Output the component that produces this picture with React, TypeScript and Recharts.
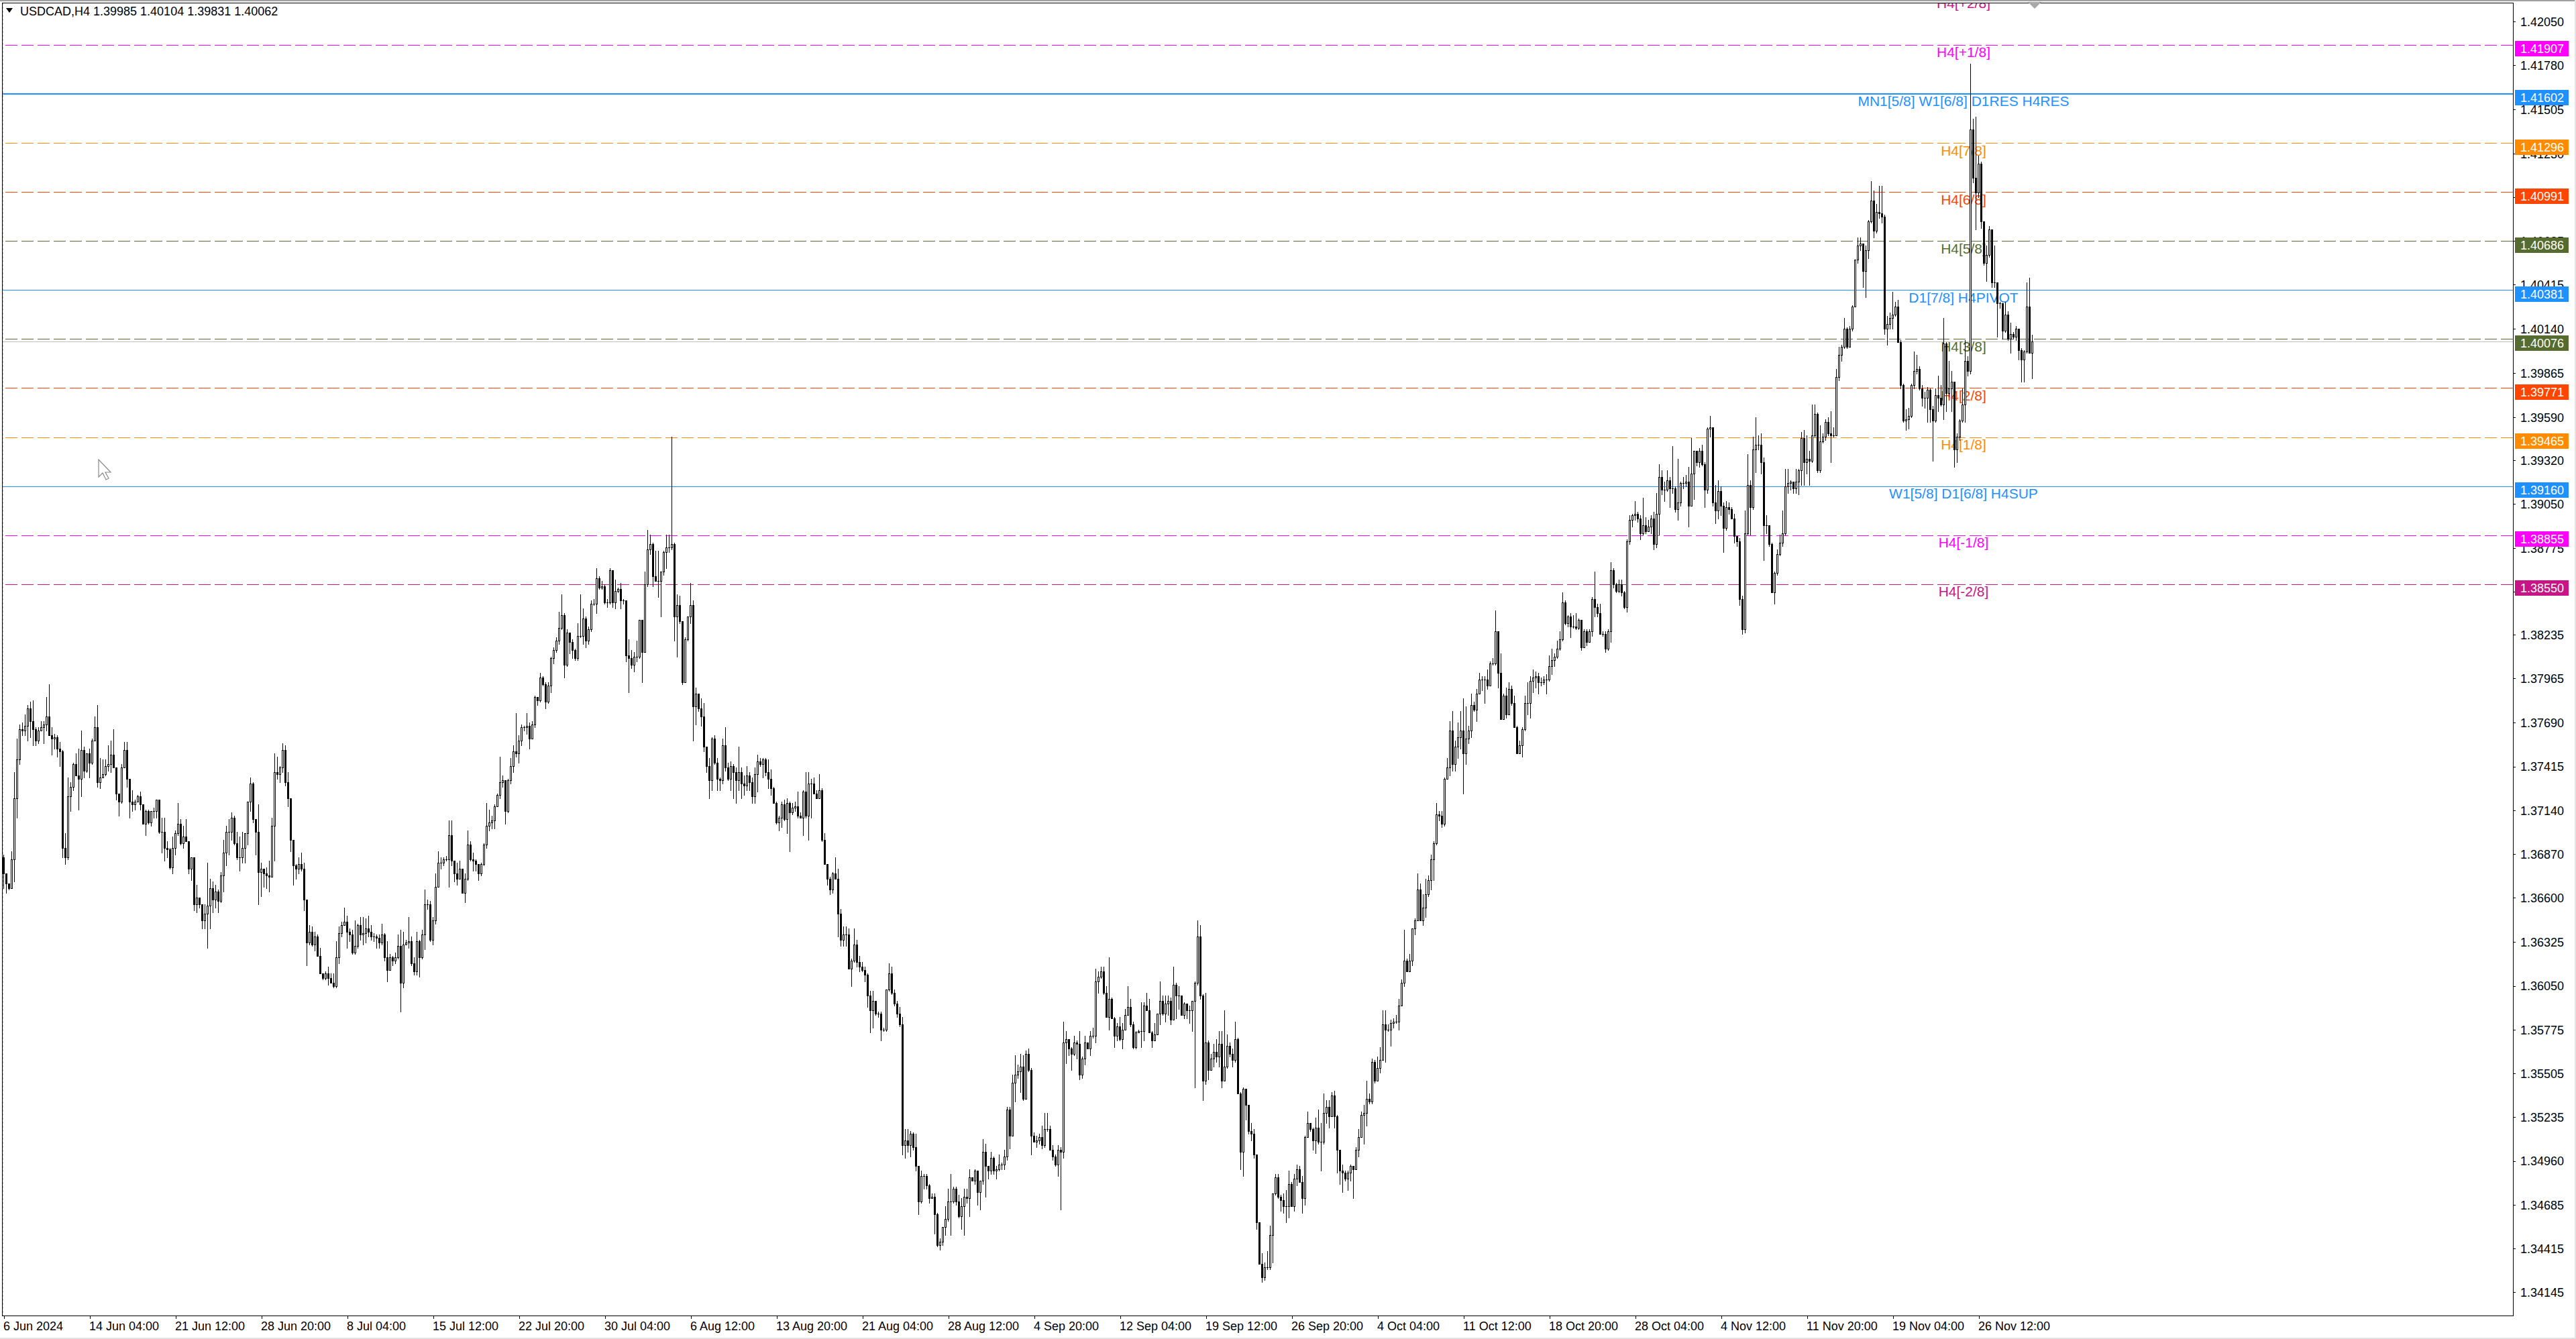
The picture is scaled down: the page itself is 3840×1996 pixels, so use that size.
import React from 'react';
import { ComposedChart, Bar, XAxis, YAxis, CartesianGrid, ReferenceLine } from 'recharts';

// USDCAD H4, 6 Jun 2024 20:00 .. 29 Nov 2024 20:00 (one value per bar)
const firstOpen = 1.3685;

const closes = [
  1.3675, 1.3669, 1.3666, 1.3684, 1.3722, 1.3746, 1.3765, 1.3764, 1.3767, 1.3778,
  1.3770, 1.3765, 1.3758, 1.3764, 1.3766, 1.3768, 1.3773, 1.3761, 1.3759, 1.3760,
  1.3753, 1.3751, 1.3691, 1.3685, 1.3723, 1.3729, 1.3743, 1.3736, 1.3734, 1.3752,
  1.3739, 1.3750, 1.3744, 1.3758, 1.3766, 1.3732, 1.3735, 1.3737, 1.3742, 1.3743,
  1.3749, 1.3741, 1.3725, 1.3720, 1.3741, 1.3752, 1.3734, 1.3720, 1.3718, 1.3720,
  1.3723, 1.3718, 1.3706, 1.3714, 1.3707, 1.3714, 1.3714, 1.3721, 1.3701, 1.3701,
  1.3691, 1.3690, 1.3679, 1.3691, 1.3700, 1.3706, 1.3694, 1.3698, 1.3695, 1.3678,
  1.3685, 1.3656, 1.3660, 1.3656, 1.3646, 1.3650, 1.3655, 1.3666, 1.3659, 1.3664,
  1.3658, 1.3674, 1.3688, 1.3701, 1.3701, 1.3710, 1.3694, 1.3685, 1.3685, 1.3691,
  1.3700, 1.3720, 1.3731, 1.3709, 1.3701, 1.3676, 1.3678, 1.3675, 1.3674, 1.3673,
  1.3705, 1.3738, 1.3737, 1.3741, 1.3752, 1.3732, 1.3722, 1.3696, 1.3680, 1.3678,
  1.3681, 1.3678, 1.3659, 1.3632, 1.3639, 1.3631, 1.3636, 1.3624, 1.3613, 1.3610,
  1.3613, 1.3610, 1.3607, 1.3605, 1.3623, 1.3638, 1.3643, 1.3645, 1.3639, 1.3637,
  1.3626, 1.3630, 1.3643, 1.3637, 1.3638, 1.3641, 1.3639, 1.3636, 1.3636, 1.3635,
  1.3632, 1.3637, 1.3623, 1.3615, 1.3623, 1.3621, 1.3623, 1.3630, 1.3607, 1.3631,
  1.3632, 1.3633, 1.3619, 1.3614, 1.3633, 1.3623, 1.3637, 1.3656, 1.3656, 1.3634,
  1.3646, 1.3667, 1.3682, 1.3682, 1.3684, 1.3684, 1.3699, 1.3683, 1.3675, 1.3672,
  1.3678, 1.3663, 1.3672, 1.3693, 1.3684, 1.3683, 1.3681, 1.3675, 1.3681, 1.3693,
  1.3705, 1.3707, 1.3708, 1.3717, 1.3724, 1.3732, 1.3733, 1.3714, 1.3733, 1.3742,
  1.3751, 1.3750, 1.3758, 1.3766, 1.3766, 1.3767, 1.3759, 1.3768, 1.3785, 1.3783,
  1.3797, 1.3793, 1.3782, 1.3792, 1.3809, 1.3814, 1.3820, 1.3828, 1.3836, 1.3805,
  1.3825, 1.3819, 1.3814, 1.3809, 1.3823, 1.3823, 1.3834, 1.3820, 1.3827, 1.3843,
  1.3843, 1.3859, 1.3853, 1.3854, 1.3844, 1.3844, 1.3864, 1.3844, 1.3851, 1.3852,
  1.3845, 1.3845, 1.3811, 1.3809, 1.3805, 1.3810, 1.3810, 1.3833, 1.3813, 1.3855,
  1.3877, 1.3880, 1.3860, 1.3857, 1.3857, 1.3863, 1.3875, 1.3878, 1.3878, 1.3880,
  1.3835, 1.3842, 1.3832, 1.3794, 1.3821, 1.3835, 1.3842, 1.3779, 1.3787, 1.3778,
  1.3773, 1.3754, 1.3742, 1.3733, 1.3759, 1.3744, 1.3734, 1.3733, 1.3755, 1.3741,
  1.3734, 1.3742, 1.3738, 1.3733, 1.3738, 1.3731, 1.3730, 1.3736, 1.3732, 1.3723,
  1.3737, 1.3745, 1.3743, 1.3746, 1.3738, 1.3734, 1.3728, 1.3719, 1.3707, 1.3710,
  1.3718, 1.3709, 1.3719, 1.3713, 1.3716, 1.3717, 1.3711, 1.3710, 1.3726, 1.3711,
  1.3731, 1.3731, 1.3725, 1.3722, 1.3727, 1.3696, 1.3681, 1.3672, 1.3665, 1.3675,
  1.3672, 1.3650, 1.3634, 1.3637, 1.3637, 1.3616, 1.3621, 1.3631, 1.3620, 1.3617,
  1.3615, 1.3612, 1.3599, 1.3590, 1.3596, 1.3588, 1.3588, 1.3578, 1.3578, 1.3603,
  1.3613, 1.3601, 1.3594, 1.3588, 1.3581, 1.3506, 1.3509, 1.3506, 1.3513, 1.3505,
  1.3493, 1.3471, 1.3487, 1.3487, 1.3481, 1.3473, 1.3474, 1.3463, 1.3444, 1.3446,
  1.3455, 1.3460, 1.3471, 1.3471, 1.3479, 1.3471, 1.3462, 1.3468, 1.3474, 1.3473,
  1.3486, 1.3484, 1.3490, 1.3477, 1.3484, 1.3502, 1.3493, 1.3490, 1.3498, 1.3490,
  1.3491, 1.3494, 1.3494, 1.3499, 1.3528, 1.3512, 1.3545, 1.3550, 1.3552, 1.3555,
  1.3535, 1.3563, 1.3553, 1.3512, 1.3508, 1.3509, 1.3511, 1.3506, 1.3516, 1.3516,
  1.3503, 1.3499, 1.3494, 1.3503, 1.3502, 1.3570, 1.3572, 1.3566, 1.3563, 1.3570,
  1.3569, 1.3550, 1.3560, 1.3570, 1.3566, 1.3574, 1.3574, 1.3608, 1.3611, 1.3614,
  1.3601, 1.3586, 1.3597, 1.3585, 1.3574, 1.3580, 1.3572, 1.3578, 1.3587, 1.3592,
  1.3581, 1.3567, 1.3576, 1.3577, 1.3577, 1.3593, 1.3590, 1.3576, 1.3571, 1.3575,
  1.3588, 1.3596, 1.3588, 1.3594, 1.3596, 1.3584, 1.3606, 1.3599, 1.3599, 1.3587,
  1.3594, 1.3590, 1.3590, 1.3596, 1.3607, 1.3636, 1.3599, 1.3546, 1.3570, 1.3553,
  1.3560, 1.3564, 1.3561, 1.3569, 1.3546, 1.3555, 1.3568, 1.3563, 1.3559, 1.3572,
  1.3538, 1.3502, 1.3541, 1.3531, 1.3515, 1.3513, 1.3500, 1.3458, 1.3432, 1.3424,
  1.3430, 1.3430, 1.3450, 1.3476, 1.3486, 1.3474, 1.3472, 1.3468, 1.3468, 1.3482,
  1.3468, 1.3485, 1.3491, 1.3483, 1.3473, 1.3511, 1.3520, 1.3516, 1.3509, 1.3517,
  1.3508, 1.3508, 1.3526, 1.3530, 1.3524, 1.3537, 1.3524, 1.3503, 1.3490, 1.3489,
  1.3485, 1.3489, 1.3493, 1.3491, 1.3503, 1.3511, 1.3525, 1.3526, 1.3535, 1.3533,
  1.3558, 1.3546, 1.3554, 1.3559, 1.3581, 1.3578, 1.3578, 1.3582, 1.3583, 1.3583,
  1.3593, 1.3607, 1.3621, 1.3614, 1.3621, 1.3641, 1.3646, 1.3665, 1.3646, 1.3654,
  1.3662, 1.3671, 1.3684, 1.3694, 1.3712, 1.3711, 1.3706, 1.3734, 1.3741, 1.3764,
  1.3743, 1.3754, 1.3760, 1.3764, 1.3750, 1.3759, 1.3764, 1.3780, 1.3777, 1.3787,
  1.3796, 1.3796, 1.3796, 1.3792, 1.3806, 1.3806, 1.3826, 1.3800, 1.3771, 1.3786,
  1.3774, 1.3790, 1.3781, 1.3766, 1.3750, 1.3755, 1.3765, 1.3781, 1.3781, 1.3795,
  1.3797, 1.3798, 1.3794, 1.3794, 1.3796, 1.3796, 1.3804, 1.3808, 1.3810, 1.3815,
  1.3821, 1.3844, 1.3831, 1.3835, 1.3829, 1.3829, 1.3828, 1.3833, 1.3816, 1.3826,
  1.3819, 1.3826, 1.3846, 1.3841, 1.3837, 1.3824, 1.3824, 1.3815, 1.3826, 1.3864,
  1.3855, 1.3851, 1.3855, 1.3850, 1.3841, 1.3882, 1.3895, 1.3898, 1.3899, 1.3896,
  1.3887, 1.3892, 1.3888, 1.3891, 1.3896, 1.3880, 1.3899, 1.3922, 1.3914, 1.3914,
  1.3920, 1.3915, 1.3915, 1.3902, 1.3906, 1.3918, 1.3918, 1.3919, 1.3904, 1.3924,
  1.3938, 1.3931, 1.3938, 1.3930, 1.3914, 1.3952, 1.3953, 1.3906, 1.3901, 1.3913,
  1.3904, 1.3890, 1.3903, 1.3902, 1.3896, 1.3885, 1.3882, 1.3846, 1.3827, 1.3887,
  1.3917, 1.3903, 1.3939, 1.3942, 1.3942, 1.3931, 1.3892, 1.3892, 1.3880, 1.3850,
  1.3862, 1.3874, 1.3881, 1.3887, 1.3916, 1.3918, 1.3919, 1.3915, 1.3919, 1.3926,
  1.3946, 1.3931, 1.3933, 1.3932, 1.3948, 1.3961, 1.3926, 1.3944, 1.3947, 1.3956,
  1.3949, 1.3948, 1.3948, 1.3984, 1.3998, 1.4003, 1.4014, 1.4003, 1.4014, 1.4028,
  1.4057, 1.4066, 1.4067, 1.4050, 1.4063, 1.4081, 1.4094, 1.4075, 1.4087, 1.4086,
  1.4084, 1.4014, 1.4017, 1.4021, 1.4023, 1.4028, 1.4006, 1.3979, 1.3957, 1.3958,
  1.3960, 1.3979, 1.3988, 1.3989, 1.3977, 1.3971, 1.3971, 1.3976, 1.3964, 1.3957,
  1.3973, 1.3971, 1.3967, 1.4005, 1.3974, 1.3977, 1.3981, 1.3939, 1.3947, 1.3957,
  1.3967, 1.3994, 1.3988, 1.4138, 1.4108, 1.4099, 1.4117, 1.4081, 1.4055, 1.4060,
  1.4076, 1.4043, 1.4043, 1.4030, 1.4030, 1.4013, 1.4023, 1.4008, 1.4011, 1.4009,
  1.4014, 1.4001, 1.3995, 1.4000, 1.4028, 1.3999, 1.40062,
];

const highs = [
  1.3687, 1.3671, 1.3668, 1.3689, 1.3738, 1.3759, 1.3768, 1.3769, 1.3774, 1.3780,
  1.3782, 1.3783, 1.3766, 1.3766, 1.3770, 1.3770, 1.3785, 1.3793, 1.3766, 1.3762,
  1.3761, 1.3757, 1.3752, 1.3700, 1.3735, 1.3732, 1.3744, 1.3750, 1.3753, 1.3764,
  1.3754, 1.3750, 1.3753, 1.3759, 1.3773, 1.3780, 1.3747, 1.3746, 1.3746, 1.3755,
  1.3758, 1.3765, 1.3741, 1.3723, 1.3743, 1.3757, 1.3757, 1.3734, 1.3727, 1.3721,
  1.3724, 1.3726, 1.3718, 1.3715, 1.3715, 1.3714, 1.3716, 1.3721, 1.3721, 1.3710,
  1.3710, 1.3695, 1.3691, 1.3698, 1.3702, 1.3719, 1.3709, 1.3705, 1.3709, 1.3695,
  1.3685, 1.3685, 1.3668, 1.3658, 1.3656, 1.3656, 1.3682, 1.3672, 1.3670, 1.3668,
  1.3665, 1.3676, 1.3696, 1.3705, 1.3709, 1.3713, 1.3711, 1.3701, 1.3698, 1.3701,
  1.3700, 1.3720, 1.3735, 1.3732, 1.3709, 1.3718, 1.3682, 1.3678, 1.3679, 1.3683,
  1.3710, 1.3750, 1.3748, 1.3742, 1.3756, 1.3755, 1.3738, 1.3722, 1.3696, 1.3681,
  1.3685, 1.3688, 1.3682, 1.3658, 1.3643, 1.3642, 1.3639, 1.3637, 1.3629, 1.3613,
  1.3614, 1.3617, 1.3613, 1.3613, 1.3633, 1.3642, 1.3645, 1.3654, 1.3649, 1.3641,
  1.3640, 1.3646, 1.3644, 1.3648, 1.3648, 1.3647, 1.3649, 1.3643, 1.3638, 1.3637,
  1.3637, 1.3644, 1.3638, 1.3633, 1.3625, 1.3624, 1.3626, 1.3637, 1.3640, 1.3639,
  1.3634, 1.3648, 1.3636, 1.3623, 1.3639, 1.3634, 1.3640, 1.3665, 1.3659, 1.3658,
  1.3648, 1.3675, 1.3689, 1.3685, 1.3685, 1.3686, 1.3708, 1.3708, 1.3683, 1.3682,
  1.3683, 1.3676, 1.3675, 1.3702, 1.3695, 1.3688, 1.3684, 1.3681, 1.3682, 1.3694,
  1.3719, 1.3715, 1.3711, 1.3718, 1.3725, 1.3748, 1.3736, 1.3724, 1.3734, 1.3747,
  1.3755, 1.3775, 1.3761, 1.3768, 1.3767, 1.3775, 1.3769, 1.3770, 1.3786, 1.3784,
  1.3800, 1.3798, 1.3794, 1.3794, 1.3810, 1.3816, 1.3822, 1.3838, 1.3849, 1.3837,
  1.3827, 1.3825, 1.3821, 1.3815, 1.3831, 1.3849, 1.3840, 1.3835, 1.3829, 1.3845,
  1.3846, 1.3865, 1.3860, 1.3857, 1.3855, 1.3846, 1.3865, 1.3864, 1.3858, 1.3853,
  1.3856, 1.3846, 1.3845, 1.3821, 1.3814, 1.3813, 1.3820, 1.3833, 1.3833, 1.3863,
  1.3889, 1.3886, 1.3881, 1.3876, 1.3876, 1.3863, 1.3876, 1.3886, 1.3886, 1.3947,
  1.3881, 1.3849, 1.3848, 1.3825, 1.3822, 1.3835, 1.3856, 1.3845, 1.3791, 1.3784,
  1.3784, 1.3781, 1.3754, 1.3747, 1.3760, 1.3761, 1.3747, 1.3735, 1.3759, 1.3766,
  1.3744, 1.3745, 1.3743, 1.3741, 1.3754, 1.3741, 1.3736, 1.3742, 1.3738, 1.3735,
  1.3741, 1.3749, 1.3747, 1.3747, 1.3747, 1.3746, 1.3740, 1.3729, 1.3720, 1.3711,
  1.3720, 1.3721, 1.3722, 1.3720, 1.3719, 1.3720, 1.3726, 1.3713, 1.3727, 1.3738,
  1.3738, 1.3734, 1.3735, 1.3727, 1.3737, 1.3728, 1.3700, 1.3681, 1.3673, 1.3676,
  1.3685, 1.3678, 1.3653, 1.3642, 1.3642, 1.3641, 1.3622, 1.3641, 1.3634, 1.3624,
  1.3620, 1.3617, 1.3613, 1.3602, 1.3602, 1.3594, 1.3589, 1.3589, 1.3579, 1.3603,
  1.3619, 1.3617, 1.3603, 1.3596, 1.3592, 1.3586, 1.3516, 1.3516, 1.3515, 1.3514,
  1.3513, 1.3493, 1.3490, 1.3488, 1.3488, 1.3482, 1.3476, 1.3476, 1.3464, 1.3448,
  1.3455, 1.3468, 1.3479, 1.3488, 1.3480, 1.3480, 1.3475, 1.3473, 1.3479, 1.3479,
  1.3491, 1.3486, 1.3491, 1.3490, 1.3484, 1.3510, 1.3507, 1.3491, 1.3502, 1.3499,
  1.3493, 1.3500, 1.3495, 1.3503, 1.3530, 1.3530, 1.3550, 1.3562, 1.3556, 1.3563,
  1.3562, 1.3565, 1.3566, 1.3554, 1.3514, 1.3512, 1.3513, 1.3518, 1.3526, 1.3526,
  1.3518, 1.3506, 1.3500, 1.3506, 1.3505, 1.3583, 1.3577, 1.3571, 1.3567, 1.3574,
  1.3571, 1.3577, 1.3561, 1.3574, 1.3570, 1.3577, 1.3579, 1.3616, 1.3614, 1.3617,
  1.3617, 1.3605, 1.3623, 1.3598, 1.3586, 1.3582, 1.3586, 1.3582, 1.3591, 1.3605,
  1.3597, 1.3583, 1.3577, 1.3578, 1.3595, 1.3595, 1.3601, 1.3597, 1.3577, 1.3582,
  1.3588, 1.3608, 1.3599, 1.3599, 1.3599, 1.3598, 1.3617, 1.3607, 1.3605, 1.3597,
  1.3595, 1.3594, 1.3593, 1.3596, 1.3608, 1.3646, 1.3643, 1.3600, 1.3601, 1.3571,
  1.3563, 1.3569, 1.3572, 1.3577, 1.3577, 1.3590, 1.3575, 1.3570, 1.3566, 1.3583,
  1.3573, 1.3539, 1.3542, 1.3539, 1.3530, 1.3520, 1.3516, 1.3500, 1.3458, 1.3439,
  1.3433, 1.3440, 1.3456, 1.3476, 1.3488, 1.3488, 1.3475, 1.3476, 1.3478, 1.3490,
  1.3483, 1.3488, 1.3494, 1.3493, 1.3487, 1.3512, 1.3527, 1.3517, 1.3517, 1.3523,
  1.3528, 1.3520, 1.3538, 1.3534, 1.3534, 1.3539, 1.3540, 1.3525, 1.3503, 1.3494,
  1.3490, 1.3490, 1.3494, 1.3493, 1.3505, 1.3516, 1.3527, 1.3531, 1.3546, 1.3538,
  1.3560, 1.3559, 1.3561, 1.3567, 1.3590, 1.3590, 1.3581, 1.3584, 1.3585, 1.3587,
  1.3597, 1.3609, 1.3640, 1.3622, 1.3625, 1.3641, 1.3647, 1.3675, 1.3669, 1.3662,
  1.3672, 1.3674, 1.3687, 1.3695, 1.3719, 1.3714, 1.3714, 1.3735, 1.3747, 1.3770,
  1.3776, 1.3758, 1.3769, 1.3776, 1.3784, 1.3779, 1.3767, 1.3787, 1.3782, 1.3790,
  1.3800, 1.3798, 1.3798, 1.3802, 1.3807, 1.3809, 1.3839, 1.3826, 1.3812, 1.3787,
  1.3791, 1.3794, 1.3792, 1.3786, 1.3767, 1.3758, 1.3766, 1.3786, 1.3794, 1.3798,
  1.3802, 1.3801, 1.3800, 1.3797, 1.3798, 1.3799, 1.3811, 1.3815, 1.3812, 1.3820,
  1.3826, 1.3850, 1.3845, 1.3836, 1.3837, 1.3836, 1.3837, 1.3834, 1.3831, 1.3827,
  1.3827, 1.3827, 1.3847, 1.3863, 1.3843, 1.3843, 1.3826, 1.3826, 1.3827, 1.3869,
  1.3865, 1.3856, 1.3858, 1.3858, 1.3851, 1.3883, 1.3898, 1.3899, 1.3907, 1.3900,
  1.3898, 1.3909, 1.3897, 1.3895, 1.3898, 1.3900, 1.3912, 1.3930, 1.3926, 1.3919,
  1.3926, 1.3922, 1.3941, 1.3916, 1.3933, 1.3919, 1.3922, 1.3923, 1.3928, 1.3946,
  1.3938, 1.3935, 1.3940, 1.3942, 1.3931, 1.3953, 1.3960, 1.3930, 1.3917, 1.3920,
  1.3916, 1.3906, 1.3907, 1.3906, 1.3903, 1.3899, 1.3885, 1.3884, 1.3848, 1.3901,
  1.3936, 1.3920, 1.3947, 1.3959, 1.3948, 1.3949, 1.3934, 1.3898, 1.3892, 1.3881,
  1.3863, 1.3877, 1.3886, 1.3901, 1.3927, 1.3927, 1.3920, 1.3919, 1.3927, 1.3927,
  1.3950, 1.3951, 1.3948, 1.3938, 1.3967, 1.3967, 1.3962, 1.3954, 1.3949, 1.3958,
  1.3959, 1.3963, 1.3953, 1.3989, 1.4003, 1.4004, 1.4021, 1.4015, 1.4016, 1.4029,
  1.4057, 1.4071, 1.4071, 1.4066, 1.4066, 1.4082, 1.4106, 1.4100, 1.4092, 1.4103,
  1.4103, 1.4085, 1.4022, 1.4024, 1.4037, 1.4031, 1.4032, 1.4007, 1.3980, 1.3964,
  1.3965, 1.3980, 1.4000, 1.3998, 1.3991, 1.3979, 1.3975, 1.3978, 1.3977, 1.3966,
  1.3977, 1.3985, 1.3979, 1.4021, 1.4006, 1.3994, 1.3988, 1.3981, 1.3949, 1.3958,
  1.3977, 1.4007, 1.3997, 1.4179, 1.4145, 1.4146, 1.4122, 1.4118, 1.4081, 1.4066,
  1.4078, 1.4076, 1.4066, 1.4043, 1.4031, 1.4028, 1.4031, 1.4025, 1.4018, 1.4012,
  1.4016, 1.4013, 1.4002, 1.4001, 1.4043, 1.4046, 1.40104,
];

const lows = [
  1.3666, 1.3663, 1.3665, 1.3666, 1.3670, 1.3710, 1.3743, 1.3761, 1.3761, 1.3758,
  1.3760, 1.3755, 1.3755, 1.3756, 1.3764, 1.3756, 1.3764, 1.3761, 1.3749, 1.3753,
  1.3748, 1.3742, 1.3685, 1.3681, 1.3684, 1.3714, 1.3727, 1.3736, 1.3715, 1.3723,
  1.3735, 1.3738, 1.3735, 1.3743, 1.3758, 1.3729, 1.3728, 1.3736, 1.3736, 1.3739,
  1.3738, 1.3741, 1.3721, 1.3711, 1.3719, 1.3741, 1.3729, 1.3710, 1.3714, 1.3715,
  1.3720, 1.3715, 1.3706, 1.3699, 1.3706, 1.3705, 1.3710, 1.3710, 1.3700, 1.3688,
  1.3683, 1.3685, 1.3678, 1.3675, 1.3687, 1.3699, 1.3693, 1.3691, 1.3695, 1.3675,
  1.3671, 1.3652, 1.3651, 1.3654, 1.3641, 1.3641, 1.3629, 1.3641, 1.3651, 1.3654,
  1.3651, 1.3657, 1.3664, 1.3680, 1.3687, 1.3696, 1.3693, 1.3684, 1.3677, 1.3682,
  1.3682, 1.3693, 1.3714, 1.3707, 1.3687, 1.3656, 1.3661, 1.3667, 1.3666, 1.3664,
  1.3673, 1.3683, 1.3734, 1.3732, 1.3738, 1.3730, 1.3717, 1.3689, 1.3668, 1.3672,
  1.3675, 1.3677, 1.3652, 1.3618, 1.3631, 1.3630, 1.3627, 1.3624, 1.3613, 1.3609,
  1.3609, 1.3606, 1.3607, 1.3604, 1.3604, 1.3619, 1.3636, 1.3644, 1.3629, 1.3633,
  1.3625, 1.3625, 1.3629, 1.3634, 1.3631, 1.3632, 1.3636, 1.3634, 1.3633, 1.3629,
  1.3629, 1.3631, 1.3621, 1.3608, 1.3615, 1.3618, 1.3619, 1.3622, 1.3589, 1.3604,
  1.3631, 1.3629, 1.3618, 1.3612, 1.3612, 1.3611, 1.3622, 1.3628, 1.3653, 1.3633,
  1.3631, 1.3644, 1.3667, 1.3678, 1.3680, 1.3683, 1.3667, 1.3680, 1.3670, 1.3668,
  1.3674, 1.3663, 1.3657, 1.3671, 1.3683, 1.3677, 1.3677, 1.3671, 1.3674, 1.3680,
  1.3691, 1.3702, 1.3703, 1.3703, 1.3717, 1.3722, 1.3729, 1.3706, 1.3713, 1.3731,
  1.3738, 1.3748, 1.3744, 1.3755, 1.3764, 1.3762, 1.3753, 1.3759, 1.3766, 1.3780,
  1.3782, 1.3792, 1.3778, 1.3781, 1.3788, 1.3806, 1.3813, 1.3818, 1.3827, 1.3797,
  1.3804, 1.3812, 1.3809, 1.3808, 1.3808, 1.3822, 1.3818, 1.3816, 1.3818, 1.3826,
  1.3842, 1.3837, 1.3852, 1.3852, 1.3843, 1.3841, 1.3843, 1.3841, 1.3840, 1.3850,
  1.3840, 1.3843, 1.3807, 1.3788, 1.3803, 1.3801, 1.3807, 1.3809, 1.3794, 1.3813,
  1.3854, 1.3874, 1.3854, 1.3857, 1.3847, 1.3835, 1.3861, 1.3865, 1.3875, 1.3877,
  1.3820, 1.3810, 1.3831, 1.3793, 1.3794, 1.3820, 1.3831, 1.3758, 1.3768, 1.3776,
  1.3767, 1.3751, 1.3738, 1.3722, 1.3727, 1.3743, 1.3727, 1.3727, 1.3731, 1.3739,
  1.3733, 1.3727, 1.3722, 1.3719, 1.3727, 1.3722, 1.3724, 1.3727, 1.3727, 1.3719,
  1.3719, 1.3726, 1.3742, 1.3735, 1.3736, 1.3728, 1.3724, 1.3719, 1.3706, 1.3702,
  1.3704, 1.3708, 1.3700, 1.3689, 1.3712, 1.3714, 1.3710, 1.3710, 1.3699, 1.3710,
  1.3696, 1.3710, 1.3725, 1.3722, 1.3722, 1.3695, 1.3681, 1.3668, 1.3662, 1.3663,
  1.3672, 1.3636, 1.3630, 1.3630, 1.3630, 1.3616, 1.3605, 1.3620, 1.3617, 1.3614,
  1.3614, 1.3608, 1.3592, 1.3576, 1.3579, 1.3587, 1.3586, 1.3571, 1.3577, 1.3577,
  1.3602, 1.3600, 1.3593, 1.3586, 1.3580, 1.3500, 1.3498, 1.3502, 1.3499, 1.3503,
  1.3490, 1.3463, 1.3470, 1.3479, 1.3479, 1.3470, 1.3473, 1.3451, 1.3443, 1.3441,
  1.3444, 1.3450, 1.3459, 1.3450, 1.3470, 1.3469, 1.3461, 1.3454, 1.3450, 1.3470,
  1.3462, 1.3484, 1.3482, 1.3469, 1.3466, 1.3482, 1.3474, 1.3485, 1.3488, 1.3488,
  1.3485, 1.3490, 1.3491, 1.3491, 1.3497, 1.3504, 1.3512, 1.3533, 1.3548, 1.3539,
  1.3534, 1.3535, 1.3552, 1.3500, 1.3508, 1.3505, 1.3507, 1.3504, 1.3505, 1.3515,
  1.3503, 1.3497, 1.3493, 1.3487, 1.3466, 1.3498, 1.3557, 1.3562, 1.3553, 1.3562,
  1.3560, 1.3547, 1.3548, 1.3556, 1.3566, 1.3562, 1.3573, 1.3570, 1.3601, 1.3610,
  1.3600, 1.3586, 1.3578, 1.3585, 1.3567, 1.3571, 1.3571, 1.3566, 1.3578, 1.3587,
  1.3580, 1.3566, 1.3566, 1.3576, 1.3567, 1.3571, 1.3590, 1.3576, 1.3567, 1.3571,
  1.3575, 1.3581, 1.3587, 1.3583, 1.3587, 1.3581, 1.3584, 1.3585, 1.3591, 1.3587,
  1.3585, 1.3585, 1.3582, 1.3577, 1.3542, 1.3606, 1.3597, 1.3534, 1.3544, 1.3547,
  1.3555, 1.3555, 1.3558, 1.3555, 1.3542, 1.3546, 1.3554, 1.3561, 1.3555, 1.3558,
  1.3538, 1.3491, 1.3487, 1.3522, 1.3513, 1.3509, 1.3498, 1.3454, 1.3432, 1.3421,
  1.3422, 1.3429, 1.3429, 1.3433, 1.3475, 1.3473, 1.3465, 1.3464, 1.3458, 1.3461,
  1.3468, 1.3465, 1.3481, 1.3483, 1.3464, 1.3469, 1.3511, 1.3515, 1.3503, 1.3501,
  1.3507, 1.3490, 1.3507, 1.3520, 1.3517, 1.3524, 1.3517, 1.3489, 1.3482, 1.3477,
  1.3484, 1.3478, 1.3484, 1.3473, 1.3491, 1.3499, 1.3511, 1.3507, 1.3518, 1.3532,
  1.3532, 1.3545, 1.3549, 1.3551, 1.3559, 1.3558, 1.3577, 1.3568, 1.3579, 1.3582,
  1.3578, 1.3593, 1.3605, 1.3614, 1.3614, 1.3618, 1.3637, 1.3646, 1.3646, 1.3643,
  1.3648, 1.3661, 1.3665, 1.3671, 1.3693, 1.3708, 1.3704, 1.3705, 1.3736, 1.3736,
  1.3739, 1.3739, 1.3747, 1.3753, 1.3725, 1.3743, 1.3756, 1.3760, 1.3776, 1.3770,
  1.3787, 1.3789, 1.3781, 1.3790, 1.3796, 1.3805, 1.3805, 1.3791, 1.3771, 1.3772,
  1.3772, 1.3774, 1.3780, 1.3766, 1.3750, 1.3750, 1.3748, 1.3764, 1.3774, 1.3772,
  1.3788, 1.3791, 1.3787, 1.3792, 1.3793, 1.3787, 1.3795, 1.3799, 1.3804, 1.3809,
  1.3814, 1.3820, 1.3830, 1.3829, 1.3822, 1.3828, 1.3827, 1.3827, 1.3814, 1.3816,
  1.3817, 1.3819, 1.3823, 1.3835, 1.3835, 1.3824, 1.3823, 1.3813, 1.3814, 1.3819,
  1.3853, 1.3850, 1.3850, 1.3848, 1.3840, 1.3838, 1.3880, 1.3891, 1.3895, 1.3894,
  1.3883, 1.3886, 1.3887, 1.3888, 1.3887, 1.3877, 1.3878, 1.3886, 1.3911, 1.3907,
  1.3913, 1.3903, 1.3912, 1.3900, 1.3895, 1.3904, 1.3915, 1.3916, 1.3891, 1.3904,
  1.3908, 1.3929, 1.3928, 1.3929, 1.3903, 1.3912, 1.3947, 1.3904, 1.3893, 1.3896,
  1.3898, 1.3875, 1.3889, 1.3899, 1.3896, 1.3881, 1.3879, 1.3842, 1.3824, 1.3825,
  1.3886, 1.3886, 1.3902, 1.3925, 1.3939, 1.3924, 1.3870, 1.3887, 1.3879, 1.3850,
  1.3843, 1.3861, 1.3873, 1.3879, 1.3886, 1.3912, 1.3914, 1.3912, 1.3912, 1.3911,
  1.3917, 1.3917, 1.3924, 1.3917, 1.3931, 1.3947, 1.3925, 1.3925, 1.3943, 1.3945,
  1.3948, 1.3931, 1.3947, 1.3948, 1.3982, 1.3994, 1.4002, 1.4002, 1.4003, 1.4013,
  1.4028, 1.4055, 1.4063, 1.4040, 1.4034, 1.4058, 1.4080, 1.4071, 1.4074, 1.4083,
  1.4080, 1.4011, 1.4004, 1.4014, 1.4014, 1.4022, 1.4006, 1.3977, 1.3956, 1.3951,
  1.3952, 1.3959, 1.3977, 1.3986, 1.3976, 1.3966, 1.3965, 1.3956, 1.3956, 1.3932,
  1.3956, 1.3963, 1.3966, 1.3958, 1.3963, 1.3972, 1.3963, 1.3928, 1.3931, 1.3945,
  1.3956, 1.3956, 1.3985, 1.3986, 1.4105, 1.4076, 1.4096, 1.4077, 1.4054, 1.4044,
  1.4059, 1.4040, 1.4040, 1.4009, 1.4027, 1.4008, 1.4012, 1.4007, 1.3999, 1.4008,
  1.4007, 1.3995, 1.3981, 1.3981, 1.3999, 1.3999, 1.39831,
];

// one label every 32 bars, starting at bar 0
const dateLabels = [
  '6 Jun 2024', '14 Jun 04:00', '21 Jun 12:00', '28 Jun 20:00', '8 Jul 04:00', '15 Jul 12:00',
  '22 Jul 20:00', '30 Jul 04:00', '6 Aug 12:00', '13 Aug 20:00', '21 Aug 04:00', '28 Aug 12:00',
  '4 Sep 20:00', '12 Sep 04:00', '19 Sep 12:00', '26 Sep 20:00', '4 Oct 04:00', '11 Oct 12:00',
  '18 Oct 20:00', '28 Oct 04:00', '4 Nov 12:00', '11 Nov 20:00', '19 Nov 04:00', '26 Nov 12:00',
];

const priceTicks = [
  1.4205, 1.4178, 1.41505, 1.4123, 1.4096, 1.40685, 1.40415, 1.4014, 1.39865, 1.3959,
  1.3932, 1.3905, 1.38775, 1.38505, 1.38235, 1.37965, 1.3769, 1.37415, 1.3714, 1.3687,
  1.366, 1.36325, 1.3605, 1.35775, 1.35505, 1.35235, 1.3496, 1.34685, 1.34415, 1.34145,
];

const levelValues = [1.41907, 1.41602, 1.41296, 1.40991, 1.40686, 1.40381, 1.40076, 1.39771, 1.39465, 1.3916, 1.38855, 1.3855];
const levelNames = [
  'H4[+1/8]', 'MN1[5/8] W1[6/8] D1RES H4RES', 'H4[7/8]', 'H4[6/8]', 'H4[5/8]', 'D1[7/8] H4PIVOT',
  'H4[3/8]', 'H4[2/8]', 'H4[1/8]', 'W1[5/8] D1[6/8] H4SUP', 'H4[-1/8]', 'H4[-2/8]',
];
const levelColors = ['#FF00FF', '#1E90FF', '#FF8C00', '#FF4500', '#556B2F', '#1E90FF', '#556B2F', '#FF4500', '#FF8C00', '#1E90FF', '#FF00FF', '#C71585'];
const topLevel = { value: 1.42212, name: 'H4[+2/8]', color: '#C71585' };
const bidPrice = 1.40062;
const header = 'USDCAD,H4  1.39985 1.40104 1.39831 1.40062';

const W = 3840;
const H = 1996;
const AXIS_W = 94;
const AXIS_H = 35;
const PLOT_BOTTOM = H - AXIS_H;
const LABEL_CX = 2927;
const FONT = '"Liberation Sans", Arial, sans-serif';

const candles = closes.map((close, i) => {
  const open = i === 0 ? firstOpen : closes[i - 1];
  const high = Math.max(highs[i], open, close);
  const low = Math.min(lows[i], open, close);
  return { i, open, close, high, low, range: [low, high] };
});

const xTicks: number[] = [];
for (let i = 0; i <= 928; i += 16) xTicks.push(i);

const levels = levelValues.map((value, k) => ({
  value,
  name: levelNames[k],
  color: levelColors[k],
  solid: levelColors[k] === '#1E90FF',
  width: k === 1 ? 2 : 1,
}));

function Candle(props: any) {
  const { x, y, width, height, payload } = props;
  if (x == null || y == null || !payload) return null;
  const { open, close, high, low } = payload;
  const top0 = Math.min(y, y + height);
  const h = Math.abs(height);
  const c = Math.floor(x + width / 2);
  const k = high > low ? h / (high - low) : 0;
  const yOf = (v: number) => top0 + (high - v) * k;
  const bTop = Math.round(yOf(Math.max(open, close)));
  const bBot = Math.round(yOf(Math.min(open, close)));
  const up = close >= open;
  return (
    <g shapeRendering="crispEdges">
      <line x1={c + 0.5} x2={c + 0.5} y1={Math.round(top0)} y2={Math.round(top0 + h) + 1} stroke="#000" strokeWidth={1} />
      {bBot - bTop < 1 ? (
        <line x1={c - 1} x2={c + 2} y1={bTop + 0.5} y2={bTop + 0.5} stroke="#000" strokeWidth={1} />
      ) : (
        <rect x={c - 0.5} y={bTop + 0.5} width={2} height={bBot - bTop} fill={up ? '#fff' : '#000'} stroke="#000" strokeWidth={1} />
      )}
    </g>
  );
}

function DateTick(props: any) {
  const { x, payload } = props;
  const v = payload?.value;
  if (v == null || v % 32 !== 0) return null;
  const label = dateLabels[v / 32];
  if (!label) return null;
  const px = Math.round(x);
  return (
    <g>
      <line x1={px + 0.5} x2={px + 0.5} y1={PLOT_BOTTOM} y2={PLOT_BOTTOM + 5} stroke="#000" shapeRendering="crispEdges" />
      <text x={px - 1} y={PLOT_BOTTOM + 22} fill="#000" fontSize={18} fontFamily={FONT} textAnchor="start">
        {label}
      </text>
    </g>
  );
}

const lineY = (props: any) => {
  const vb = props?.viewBox || {};
  return (vb.y ?? props?.y ?? 0) + (vb.height ?? 0) / 2;
};

const levelText = (name: string, color: string) => (props: any) => (
  <text x={LABEL_CX} y={lineY(props) + 18} textAnchor="middle" fill={color} fontSize={21} fontFamily={FONT}>
    {name}
  </text>
);

const priceBox = (value: number, color: string) => (props: any) => {
  const vb = props?.viewBox || {};
  const right = (vb.x ?? 0) + (vb.width ?? 0);
  const y = Math.round(lineY(props));
  return (
    <g>
      <rect x={right + 3} y={y - 6} width={80} height={23} fill={color} shapeRendering="crispEdges" />
      <text x={right + 11} y={y + 12} fill="#fff" fontSize={18} fontFamily={FONT}>
        {value.toFixed(5)}
      </text>
    </g>
  );
};

function Layer({ showAxes = false, children }: { showAxes?: boolean; children?: React.ReactNode }) {
  return (
    <div style={{ position: 'absolute', left: 0, top: 0 }}>
      <ComposedChart width={W} height={H} data={candles} margin={{ top: 4, right: 0, bottom: 0, left: 4 }}>
        <XAxis
          dataKey="i"
          type="number"
          domain={[-0.5, 935]}
          ticks={xTicks}
          interval={0}
          allowDataOverflow
          height={AXIS_H}
          axisLine={false}
          tickLine={false}
          tick={showAxes ? <DateTick /> : false}
        />
        <YAxis
          type="number"
          orientation="right"
          domain={[1.34, 1.42171]}
          ticks={priceTicks}
          interval={0}
          allowDataOverflow
          width={AXIS_W}
          axisLine={false}
          tickLine={showAxes ? { stroke: '#000', shapeRendering: 'crispEdges' } : false}
          tickSize={4}
          tickMargin={7}
          tick={showAxes ? { fill: '#000', fontSize: 18, fontFamily: FONT } : false}
          tickFormatter={(v: number) => v.toFixed(5)}
        />
        {children}
      </ComposedChart>
    </div>
  );
}

export default function App() {
  return (
    <div style={{ position: 'relative', width: W, height: H, background: '#fff', overflow: 'hidden' }}>
      <style>{'html,body{margin:0;padding:0;background:#fff;}'}</style>

      <Layer>
        <CartesianGrid stroke="#c0c0c0" strokeDasharray="3 3" shapeRendering="crispEdges" />
        <ReferenceLine y={bidPrice} stroke="#c0c0c0" strokeWidth={1} ifOverflow="visible" shapeRendering="crispEdges" />
        {levels.map((l) => (
          <ReferenceLine
            key={l.name}
            y={l.value}
            stroke={l.color}
            strokeWidth={l.width}
            strokeDasharray={l.solid ? undefined : '18 6'}
            ifOverflow="visible"
            shapeRendering="crispEdges"
            label={levelText(l.name, l.color)}
          />
        ))}
        <ReferenceLine
          y={topLevel.value}
          stroke="none"
          ifOverflow="visible"
          label={levelText(topLevel.name, topLevel.color)}
        />
      </Layer>

      <Layer>
        <Bar dataKey="range" barSize={3} isAnimationActive={false} shape={<Candle />} />
      </Layer>

      <Layer showAxes />

      <Layer>
        {levels.map((l) => (
          <ReferenceLine key={l.name} y={l.value} stroke="none" ifOverflow="visible" label={priceBox(l.value, l.color)} />
        ))}
      </Layer>

      {/* window frame and plot border */}
      <div style={{ position: 'absolute', left: 0, top: 0, width: W, height: 2, background: '#a0a0a0' }} />
      <div style={{ position: 'absolute', left: 0, top: 2, width: 3747, height: 2, background: '#fff' }} />
      <div
        style={{
          position: 'absolute', left: 3, top: 4, width: 3744, height: PLOT_BOTTOM + 1 - 4,
          border: '1px solid #000', boxSizing: 'border-box', pointerEvents: 'none',
        }}
      />
      <div style={{ position: 'absolute', right: 0, top: 0, width: 2, height: H, background: '#e3e3e3' }} />
      <div style={{ position: 'absolute', left: 0, bottom: 0, width: W, height: 2, background: '#e3e3e3' }} />

      <svg style={{ position: 'absolute', left: 0, top: 0 }} width={W} height={40}>
        <polygon points="9,12 19,12 14,19" fill="#000" />
        <text x={30} y={23} fontSize={18} fontFamily={FONT} fill="#000">{header}</text>
        <polygon points="3023,3 3043,3 3033,13" fill="#a8a8a8" />
      </svg>

      <svg style={{ position: 'absolute', left: 146, top: 684 }} width={30} height={40}>
        <polygon points="1,1 1,27 7,21 12,31 16,29 11,20 19,20" fill="#fff" stroke="#8a8a8a" strokeWidth={1.2} />
      </svg>
    </div>
  );
}
